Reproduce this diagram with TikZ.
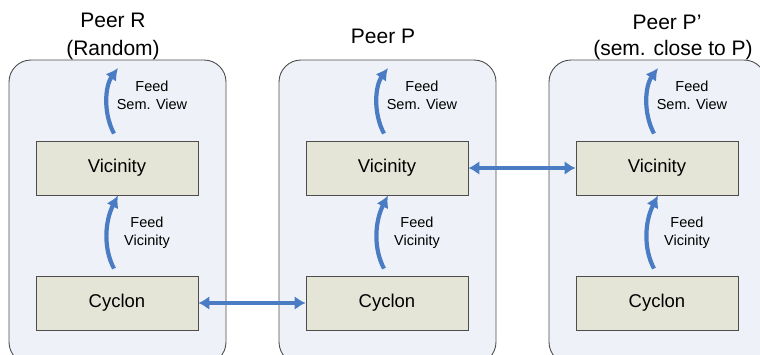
\documentclass[tikz,border=0pt]{standalone}
\usepackage{fontspec}
\setmainfont{Liberation Sans}
\usetikzlibrary{arrows.meta}
\definecolor{peerfill}{HTML}{EEF1F7}
\definecolor{peerline}{HTML}{4D4D4D}
\definecolor{modfill}{HTML}{E5E5D7}
\definecolor{arrblue}{HTML}{4A7CC4}
\tikzset{
  peerbox/.style={draw=peerline, line width=0.9pt, fill=peerfill, rounded corners=22pt},
  modbox/.style={draw=peerline, line width=0.9pt, fill=modfill, minimum width=162pt, minimum height=54pt, inner sep=0pt, font=\fontsize{18.5}{22}\selectfont},
  title/.style={font=\fontsize{21}{28}\selectfont, align=center, inner sep=0pt},
  small/.style={font=\fontsize{14.5}{18}\selectfont, align=center, inner sep=0pt},
  flow/.style={draw=arrblue, line width=4.2pt, -{Latex[length=12pt,width=13pt]}},
  link/.style={draw=arrblue, line width=4pt, {Latex[length=11pt,width=14pt]}-{Latex[length=11pt,width=14pt]}}
}
\begin{document}
\begin{tikzpicture}[x=1pt,y=-1pt]
\useasboundingbox (0,0) rectangle (760,354);
\foreach \n/\dx in {R/0,P/270,Q/540}{
  \begin{scope}[xshift=\dx pt]
  \path[peerbox] (9,60) rectangle (226,364);
  \node[modbox] (V\n) at (117,168) {Vicinity};
  \node[modbox] (C\n) at (117,303) {Cyclon};
  \coordinate (T\n) at (118,68);
  \draw[flow] ([shift={(-3,-7)}]V\n.north) .. controls (103,113) and (105,86) .. (T\n);
  \draw[flow] ([shift={(-3,-7)}]C\n.north) .. controls (103,248) and (105,221) .. ([xshift=1pt]V\n.south);
  \node[small] (LS\n) at (152,95) {Feed\\Sem. View};
  \node[small] (LV\n) at (147,233) {Feed\\Vicinity};
  \end{scope}
}
\node[title] (tR) at (113,36) {Peer R\\(Random)};
\node[title] (tP) at (383,36) {Peer P};
\node[title] (tQ1) at (667,22) {Peer P’};
\node[title] (tQ2) at (673,50) {(sem. close to P)};
\draw[link] (CR.east) -- (CP.west);
\draw[link] (VP.east) -- (VQ.west);
\end{tikzpicture}
\end{document}
